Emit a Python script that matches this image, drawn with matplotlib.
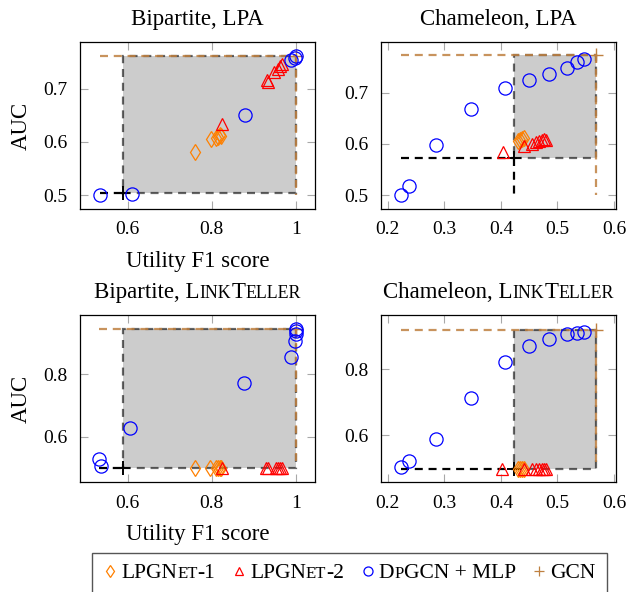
import matplotlib
matplotlib.use('Agg')
from matplotlib import pyplot as plt
from matplotlib.lines import Line2D
from matplotlib.patches import Rectangle
from matplotlib.ticker import FixedLocator, FuncFormatter
from matplotlib.offsetbox import TextArea, HPacker, DrawingArea, AnchoredOffsetbox

plt.rcParams['font.family'] = ['Liberation Serif', 'DejaVu Serif']

FS = 16.5
SC = 0.78
BLUE = '#0000ff'
RED = '#ff0000'
ORANGE = '#ff8000'
BROWN = '#bf8040'

# Bipartite, LPA
bl_dp_x = [0.535, 0.610, 0.880, 0.990, 0.998, 1.000]
bl_dp_y = [0.500, 0.503, 0.651, 0.755, 0.758, 0.761]
bl_l1_x = [0.760, 0.798, 0.810, 0.816, 0.820, 0.822]
bl_l1_y = [0.581, 0.605, 0.607, 0.610, 0.613, 0.611]
bl_l2_x = [0.824, 0.931, 0.934, 0.949, 0.957, 0.962, 0.968]
bl_l2_y = [0.634, 0.716, 0.713, 0.732, 0.738, 0.742, 0.746]
bl_base = (0.590, 0.505)
bl_gcn = (1.000, 0.762)

# Chameleon, LPA
cl_dp_x = [0.2235, 0.2375, 0.285, 0.347, 0.408, 0.450, 0.4855, 0.516, 0.5345, 0.547]
cl_dp_y = [0.500, 0.517, 0.597, 0.668, 0.710, 0.725, 0.736, 0.749, 0.759, 0.766]
cl_l1_x = [0.431, 0.434, 0.437, 0.441]
cl_l1_y = [0.606, 0.607, 0.609, 0.611]
cl_l2_x = [0.403, 0.441, 0.455, 0.462, 0.468, 0.473, 0.477, 0.480]
cl_l2_y = [0.585, 0.596, 0.600, 0.604, 0.606, 0.608, 0.609, 0.607]
cl_base = (0.423, 0.572)
cl_gcn = (0.569, 0.773)

# Bipartite, LinkTeller
bt_dp_x = [0.533, 0.536, 0.606, 0.877, 0.990, 0.998, 1.000, 1.000, 1.000]
bt_dp_y = [0.529, 0.504, 0.627, 0.771, 0.855, 0.907, 0.930, 0.938, 0.944]
bt_l1_x = [0.760, 0.797, 0.810, 0.816, 0.820, 0.823]
bt_l1_y = [0.500, 0.500, 0.500, 0.500, 0.500, 0.500]
bt_l2_x = [0.825, 0.930, 0.935, 0.953, 0.958, 0.962, 0.967]
bt_l2_y = [0.500, 0.500, 0.500, 0.500, 0.500, 0.500, 0.500]
bt_base = (0.590, 0.500)
bt_gcn = (1.000, 0.944)

# Chameleon, LinkTeller
ct_dp_x = [0.2235, 0.2375, 0.285, 0.347, 0.408, 0.450, 0.4855, 0.516, 0.5345, 0.547]
ct_dp_y = [0.505, 0.524, 0.589, 0.714, 0.823, 0.871, 0.891, 0.906, 0.911, 0.913]
ct_l1_x = [0.431, 0.434, 0.437, 0.441]
ct_l1_y = [0.500, 0.500, 0.500, 0.500]
ct_l2_x = [0.402, 0.441, 0.455, 0.462, 0.468, 0.473, 0.477, 0.480]
ct_l2_y = [0.500, 0.500, 0.500, 0.500, 0.500, 0.500, 0.500, 0.500]
ct_base = (0.423, 0.500)
ct_gcn = (0.569, 0.920)

bip_xticks = [0.6, 0.8, 1.0]
cham_xticks = [0.2, 0.3, 0.4, 0.5, 0.6]
lpa_yticks = [0.5, 0.6, 0.7]
lt_yticks = [0.6, 0.8]


def text_parts(parts, size):
    # (string, is_big) pieces; small pieces fake small caps
    boxes = [TextArea(s, textprops=dict(fontsize=size if big else size * SC))
             for s, big in parts]
    return HPacker(children=boxes, align='baseline', pad=0, sep=0)


def set_title(ax, parts):
    ab = AnchoredOffsetbox(loc='lower center', child=text_parts(parts, FS), pad=0,
                           borderpad=0, frameon=False, bbox_to_anchor=(0.5, 1.07),
                           bbox_transform=ax.transAxes)
    ax.add_artist(ab)


def draw_panel(ax, dp_x, dp_y, l1_x, l1_y, l2_x, l2_y, base, gcn):
    xmin = min(dp_x)
    ymin = min(dp_y)
    bx, by = base
    gx, gy = gcn
    dash = (0, (3.6, 2.6))
    ax.add_patch(Rectangle((bx, by), gx - bx, gy - by, facecolor=(0.5, 0.5, 0.5, 0.4),
                           edgecolor=(0, 0, 0, 0.6), linestyle=dash, lw=1.6, zorder=1))
    ax.plot([xmin, gx], [gy, gy], color=BROWN, ls=dash, lw=1.6, alpha=0.85, zorder=2)
    ax.plot([gx, gx], [gy, ymin], color=BROWN, ls=dash, lw=1.6, alpha=0.85, zorder=2)
    ax.plot([gx], [gy], marker='+', color=BROWN, ms=10, mew=1.0, zorder=2)
    ax.plot([xmin, bx], [by, by], color='k', ls=dash, lw=1.6, zorder=2)
    ax.plot([bx, bx], [by, ymin], color='k', ls=dash, lw=1.6, zorder=2)
    ax.plot([bx], [by], marker='+', color='k', ms=10, mew=1.4, zorder=2)
    ax.plot(l1_x, l1_y, ls='none', marker='d', ms=8, mfc='none', mec=ORANGE, mew=0.9, zorder=3)
    ax.plot(l2_x, l2_y, ls='none', marker='^', ms=8.5, mfc='none', mec=RED, mew=0.9, zorder=3)
    ax.plot(dp_x, dp_y, ls='none', marker='o', ms=9.5, mfc='none', mec=BLUE, mew=0.9, zorder=3)


def style_axes(ax, xlim, ylim, xticks, yticks):
    ax.set_xlim(xlim)
    ax.set_ylim(ylim)
    ax.xaxis.set_major_locator(FixedLocator(xticks))
    ax.yaxis.set_major_locator(FixedLocator(yticks))
    fmt = FuncFormatter(lambda v, p: '%g' % v)
    ax.xaxis.set_major_formatter(fmt)
    ax.yaxis.set_major_formatter(fmt)
    ax.tick_params(direction='in', length=6, width=0.8, color='#a8a8a8', labelsize=14,
                   top=True, right=True, pad=9)
    for s in ax.spines.values():
        s.set_linewidth(0.9)


fig = plt.figure(figsize=(6.28, 5.92), dpi=100)
W, H = 628.0, 592.0


def add_ax(left, top, right, bottom):
    return fig.add_axes([left / W, 1 - bottom / H, (right - left) / W, (bottom - top) / H])


ax1 = add_ax(80, 42, 315, 209)
ax2 = add_ax(381, 42, 616, 209)
ax3 = add_ax(80, 315, 315, 482)
ax4 = add_ax(381, 315, 616, 482)

draw_panel(ax1, bl_dp_x, bl_dp_y, bl_l1_x, bl_l1_y, bl_l2_x, bl_l2_y, bl_base, bl_gcn)
draw_panel(ax2, cl_dp_x, cl_dp_y, cl_l1_x, cl_l1_y, cl_l2_x, cl_l2_y, cl_base, cl_gcn)
draw_panel(ax3, bt_dp_x, bt_dp_y, bt_l1_x, bt_l1_y, bt_l2_x, bt_l2_y, bt_base, bt_gcn)
draw_panel(ax4, ct_dp_x, ct_dp_y, ct_l1_x, ct_l1_y, ct_l2_x, ct_l2_y, ct_base, ct_gcn)

style_axes(ax1, (0.487, 1.046), (0.474, 0.788), bip_xticks, lpa_yticks)
style_axes(ax2, (0.188, 0.6035), (0.473, 0.799), cham_xticks, lpa_yticks)
style_axes(ax3, (0.487, 1.046), (0.454, 0.990), bip_xticks, lt_yticks)
style_axes(ax4, (0.188, 0.6035), (0.4595, 0.964), cham_xticks, lt_yticks)

set_title(ax1, [('Bipartite, LPA', True)])
set_title(ax2, [('Chameleon, LPA', True)])
set_title(ax3, [('Bipartite, L', True), ('INK', False), ('T', True), ('ELLER', False)])
set_title(ax4, [('Chameleon, L', True), ('INK', False), ('T', True), ('ELLER', False)])

for ax in (ax1, ax3):
    ax.set_xlabel('Utility F1 score', fontsize=FS, labelpad=9)
    ax.set_ylabel('AUC', fontsize=FS, labelpad=8)

# legend built by hand because of the small caps
def legend_marker(marker, color, ms, mew):
    da = DrawingArea(10, 9.6, 0, 0)
    da.add_artist(Line2D([5], [4.8], marker=marker, ls='none', mfc='none', mec=color,
                         color=color, ms=ms, mew=mew))
    return da


leg_items = [
    (legend_marker('d', ORANGE, 6.0, 0.9), [('LPGN', True), ('ET', False), ('-1', True)]),
    (legend_marker('^', RED, 6.0, 0.9), [('LPGN', True), ('ET', False), ('-2', True)]),
    (legend_marker('o', BLUE, 6.5, 0.9), [('D', True), ('P', False), ('GCN + MLP', True)]),
    (legend_marker('+', BROWN, 7.5, 0.9), [('GCN', True)]),
]
entries = [HPacker(children=[m, text_parts(t, 15.5)], align='baseline', pad=0, sep=3)
           for m, t in leg_items]
leg = AnchoredOffsetbox(loc='upper center', child=HPacker(children=entries, align='baseline',
                                                          pad=0, sep=12),
                        pad=0.8, borderpad=0, frameon=True, prop=dict(size=10),
                        bbox_to_anchor=(349.5 / W, 1 - 553 / H), bbox_transform=fig.transFigure)
leg.patch.set_edgecolor('#555555')
leg.patch.set_linewidth(1.0)
fig.add_artist(leg)

fig.savefig('out.png', dpi=100)
